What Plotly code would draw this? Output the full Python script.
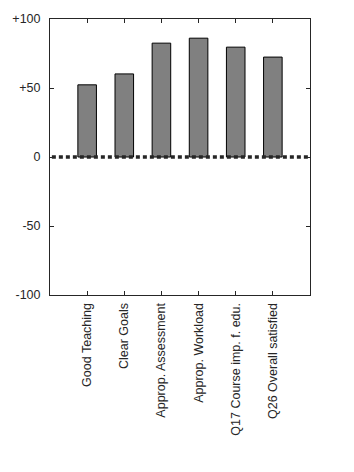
import plotly.graph_objects as go

categories = ["Good Teaching", "Clear Goals", "Approp. Assessment", "Approp. Workload",
              "Q17 Course imp. f. edu.", "Q26 Overall satisfied"]
values = [52.3, 60.2, 82.5, 86.1, 79.6, 72.4]
ytick_vals = [-100, -50, 0, 50, 100]
ytick_text = ["-100", "-50", "0", "+50", "+100"]

xs = list(range(len(categories)))

fig = go.Figure()
fig.add_trace(go.Bar(x=xs, y=values, width=0.5,
                     marker=dict(color="#808080", line=dict(color="black", width=1))))
fig.add_trace(go.Scatter(x=[-0.95, len(categories)], y=[0, 0], mode="lines",
                         line=dict(color="#262626", width=3.5, dash="4px,3px"),
                         cliponaxis=True, hoverinfo="skip"))

axis_common = dict(showgrid=False, zeroline=False, showline=True, linecolor="#262626",
                   linewidth=1, mirror="ticks", ticks="inside", ticklen=4,
                   tickcolor="#262626",
                   tickfont=dict(family="Liberation Sans, Arial", size=12.5, color="#262626"))

fig.update_layout(
    width=354, height=472,
    margin=dict(l=46, r=44, t=17, b=177),
    plot_bgcolor="white", paper_bgcolor="white",
    showlegend=False,
    xaxis=dict(range=[-1, len(categories)], tickvals=xs, ticktext=categories,
               tickangle=-90, ticklabelstandoff=2, **axis_common),
    yaxis=dict(range=[-100, 100], tickvals=ytick_vals, ticktext=ytick_text,
               ticklabelstandoff=6, **axis_common),
)

fig.write_html("out.html")
